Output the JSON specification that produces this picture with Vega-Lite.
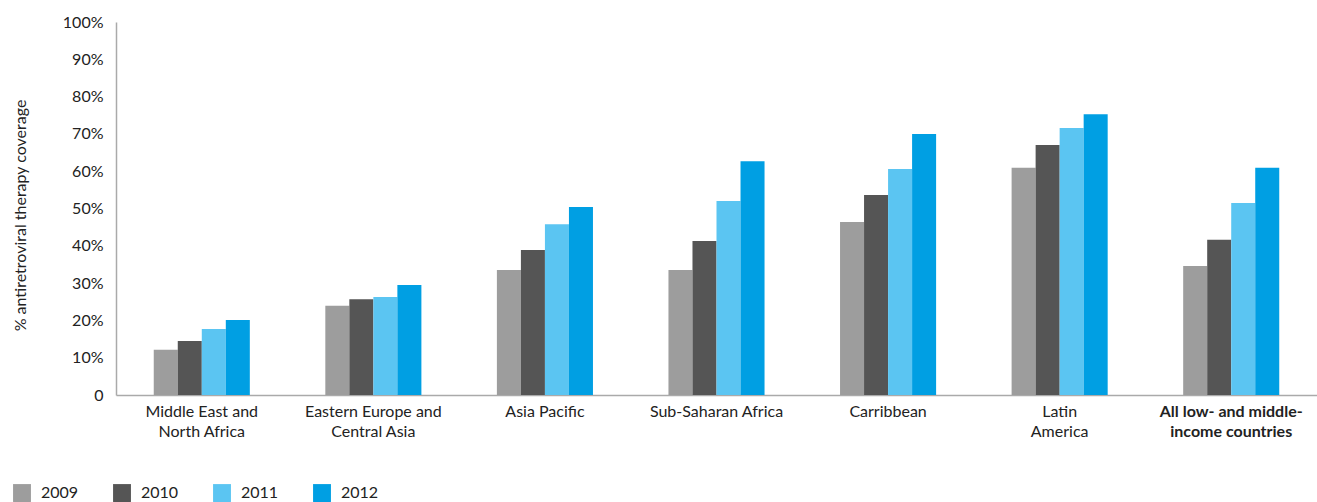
{
  "$schema": "https://vega.github.io/schema/vega-lite/v6.json",
  "autosize": {"type": "none"},
  "width": 1201,
  "height": 373,
  "padding": {"left": 116, "top": 22, "right": 0, "bottom": 107},
  "background": "white",
  "config": {
    "view": {"stroke": null},
    "font": "Lato",
    "axis": {"labelFont": "Lato", "titleFont": "Lato", "labelColor": "#222222", "titleColor": "#222222"}
  },
  "data": {
    "values": [
      {"region": "Middle East and North Africa", "year": "2009", "coverage": 0.121},
      {"region": "Middle East and North Africa", "year": "2010", "coverage": 0.145},
      {"region": "Middle East and North Africa", "year": "2011", "coverage": 0.177},
      {"region": "Middle East and North Africa", "year": "2012", "coverage": 0.201},
      {"region": "Eastern Europe and Central Asia", "year": "2009", "coverage": 0.239},
      {"region": "Eastern Europe and Central Asia", "year": "2010", "coverage": 0.257},
      {"region": "Eastern Europe and Central Asia", "year": "2011", "coverage": 0.263},
      {"region": "Eastern Europe and Central Asia", "year": "2012", "coverage": 0.295},
      {"region": "Asia Pacific", "year": "2009", "coverage": 0.335},
      {"region": "Asia Pacific", "year": "2010", "coverage": 0.389},
      {"region": "Asia Pacific", "year": "2011", "coverage": 0.458},
      {"region": "Asia Pacific", "year": "2012", "coverage": 0.504},
      {"region": "Sub-Saharan Africa", "year": "2009", "coverage": 0.335},
      {"region": "Sub-Saharan Africa", "year": "2010", "coverage": 0.413},
      {"region": "Sub-Saharan Africa", "year": "2011", "coverage": 0.52},
      {"region": "Sub-Saharan Africa", "year": "2012", "coverage": 0.627},
      {"region": "Carribbean", "year": "2009", "coverage": 0.464},
      {"region": "Carribbean", "year": "2010", "coverage": 0.536},
      {"region": "Carribbean", "year": "2011", "coverage": 0.606},
      {"region": "Carribbean", "year": "2012", "coverage": 0.70},
      {"region": "Latin America", "year": "2009", "coverage": 0.609},
      {"region": "Latin America", "year": "2010", "coverage": 0.67},
      {"region": "Latin America", "year": "2011", "coverage": 0.716},
      {"region": "Latin America", "year": "2012", "coverage": 0.753},
      {"region": "All low- and middle-income countries", "year": "2009", "coverage": 0.346},
      {"region": "All low- and middle-income countries", "year": "2010", "coverage": 0.416},
      {"region": "All low- and middle-income countries", "year": "2011", "coverage": 0.515},
      {"region": "All low- and middle-income countries", "year": "2012", "coverage": 0.609}
    ]
  },
  "mark": {"type": "bar"},
  "encoding": {
    "x": {
      "field": "region",
      "type": "nominal",
      "sort": null,
      "scale": {"paddingInner": 0.44, "paddingOuter": 0.22},
      "axis": {
        "title": null,
        "labelAngle": 0,
        "ticks": false,
        "domainColor": "#aaaaaa",
        "domainWidth": 1.5,
        "labelFontSize": 16,
        "labelPadding": 8,
        "labelLineHeight": 20,
        "labelBaseline": "top",
        "labelLimit": 300,
        "labelOverlap": false,
        "labelFontWeight": {"condition": {"test": "datum.value == 'All low- and middle-income countries'", "value": "bold"}, "value": "normal"},
        "labelExpr": "datum.value == 'Middle East and North Africa' ? ['Middle East and', 'North Africa'] : datum.value == 'Eastern Europe and Central Asia' ? ['Eastern Europe and', 'Central Asia'] : datum.value == 'Latin America' ? ['Latin', 'America'] : datum.value == 'All low- and middle-income countries' ? ['All low- and middle-', 'income countries'] : datum.value"
      }
    },
    "xOffset": {"field": "year", "type": "nominal", "scale": {"paddingInner": 0, "paddingOuter": 0}},
    "y": {
      "field": "coverage",
      "type": "quantitative",
      "scale": {"domain": [0, 1]},
      "axis": {
        "title": "% antiretroviral therapy coverage",
        "titleFontSize": 16,
        "titleFontWeight": "normal",
        "titleX": -96,
        "titleY": 193,
        "titleAlign": "center",
        "titleBaseline": "middle",
        "titleAngle": -90,
        "grid": false,
        "ticks": false,
        "values": [0, 0.1, 0.2, 0.3, 0.4, 0.5, 0.6, 0.7, 0.8, 0.9, 1],
        "labelOverlap": false,
        "labelExpr": "datum.value == 0 ? '0' : format(datum.value, '.0%')",
        "labelFontSize": 16,
        "labelPadding": 13,
        "domainColor": "#aaaaaa",
        "domainWidth": 1.5
      }
    },
    "color": {
      "field": "year",
      "type": "nominal",
      "scale": {"domain": ["2009", "2010", "2011", "2012"], "range": ["#9d9d9d", "#555555", "#5bc5f2", "#009fe3"]},
      "legend": {
        "title": null,
        "orient": "none",
        "legendX": -103,
        "legendY": 462,
        "direction": "horizontal",
        "columns": 4,
        "symbolType": "square",
        "symbolSize": 320,
        "symbolStrokeWidth": 0,
        "symbolOpacity": 1,
        "labelFontSize": 16,
        "labelFont": "Lato",
        "labelColor": "#222222",
        "labelOffset": 10,
        "columnPadding": 34
      }
    }
  }
}
